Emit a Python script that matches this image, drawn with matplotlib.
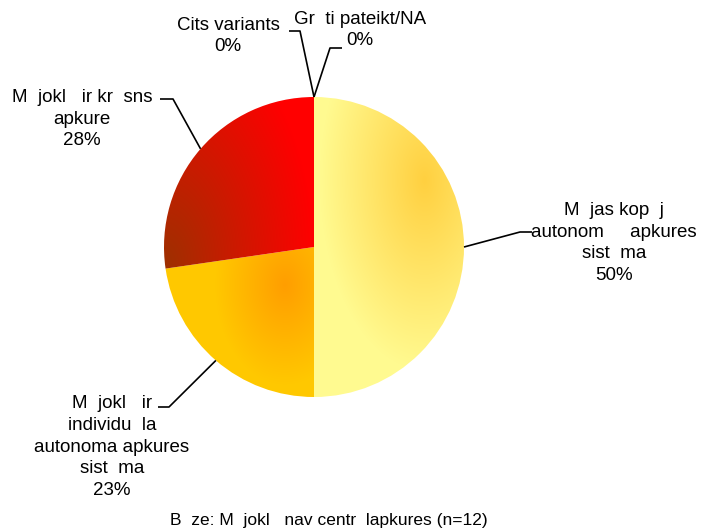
import numpy as np
import matplotlib.pyplot as plt
from matplotlib.colors import to_rgb

plt.rcParams['font.family'] = ['Liberation Sans', 'DejaVu Sans']

# data
labels = ["M  jas kop  j\nautonom     apkures\nsist  ma",
          "M  jokl   ir\nindividu  la\nautonoma apkures\nsist  ma",
          "M  jokl   ir kr  sns\napkure",
          "Cits variants",
          "Gr  ti pateikt/NA"]
values = [50.0, 22.7, 27.3, 0.0, 0.0]
pct_text = ["50%", "23%", "28%", "0%", "0%"]
footer = "B  ze: M  jokl   nav centr  lapkures (n=12)"

W, H = 703, 531
CX, CY, R = 314, H - 247, 150

# gradient per slice: base colour, focus colour, focus point (px), radii
grads = [
    ("#FFFA90", "#FFD040", (425, 180), (105, 190)),
    ("#FFC800", "#FF9E00", (285, 285), (70, 100)),
    ("#FF0000", "#9E3000", (165, 265), (150, 250)),
    ("#FFFFFF", "#FFFFFF", (0, 0), (1, 1)),
    ("#FFFFFF", "#FFFFFF", (0, 0), (1, 1)),
]

# label text centres (px, top-left origin) and leader line elbow / end
text_pos = [(614, 243), (112, 447), (82, 119), (228, 36), (360, 30)]
elbows = [((520, 232), (532, 232)),
          ((169, 407), (158, 407)),
          ((173, 99), (160, 99)),
          ((300, 31), (289, 31)),
          ((330, 48), (342, 48))]

fig = plt.figure(figsize=(W / 100, H / 100), dpi=100)
ax = fig.add_axes([0, 0, 1, 1])

wedges, _ = ax.pie(values, startangle=90, counterclock=False,
                   center=(CX, CY), radius=R, colors=["none"] * 5,
                   wedgeprops=dict(linewidth=0))

xs = np.linspace(CX - R, CX + R, 300)
ys = np.linspace(CY - R, CY + R, 300)
gx, gy = np.meshgrid(xs, ys)
for w, (c0, c1, (fx, fy), (rx, ry)) in zip(wedges, grads):
    d = np.sqrt(((gx - fx) / rx) ** 2 + ((gy - (H - fy)) / ry) ** 2)
    t = np.clip(1 - d, 0, 1)[..., None]
    img = np.array(to_rgb(c0)) * (1 - t) + np.array(to_rgb(c1)) * t
    im = ax.imshow(img, extent=(CX - R, CX + R, CY - R, CY + R),
                   origin='lower', interpolation='bilinear', zorder=1)
    im.set_clip_path(w)

for w, lab, pct, (tx, ty), (elb, end) in zip(wedges, labels, pct_text,
                                             text_pos, elbows):
    ang = np.deg2rad((w.theta1 + w.theta2) / 2)
    ex, ey = CX + R * np.cos(ang), CY + R * np.sin(ang)
    ax.plot([ex, elb[0], end[0]], [ey, H - elb[1], H - end[1]],
            color="black", lw=1.2, zorder=3, solid_capstyle='butt')
    ax.text(tx, H - ty, lab + "\n" + pct, ha="center", va="center",
            fontsize=13.5, linespacing=1.38, zorder=4)

ax.text(329, H - 520, footer, ha="center", va="center", fontsize=12.5)

ax.set_xlim(0, W)
ax.set_ylim(0, H)
ax.set_aspect('auto')
ax.axis('off')
fig.savefig("out.png", dpi=100)
